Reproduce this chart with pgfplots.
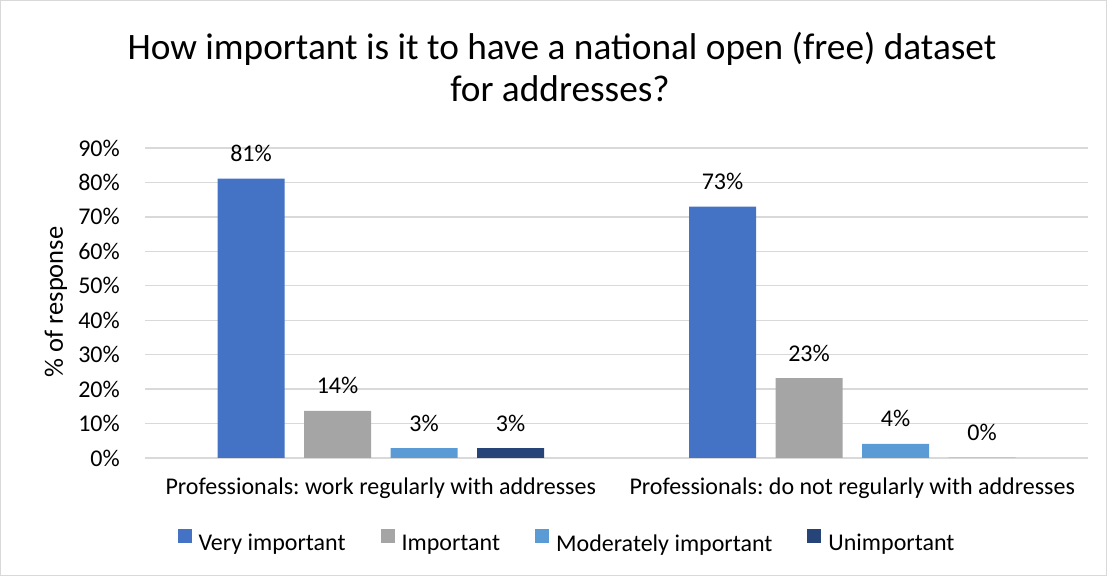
\documentclass[border=0pt]{standalone}
\usepackage{pgfplots}
\pgfplotsset{compat=1.18}
\usepackage{fontspec}
\setmainfont{Carlito}
\frenchspacing
\definecolor{c1}{HTML}{4472C4}
\definecolor{c2}{HTML}{A5A5A5}
\definecolor{c3}{HTML}{5B9BD5}
\definecolor{c4}{HTML}{264478}
\definecolor{gridc}{HTML}{D9D9D9}
\newcommand\fs[1]{\fontsize{#1bp}{#1bp}\selectfont}
\begin{document}
\begin{tikzpicture}[x=1bp,y=1bp]
\draw[gridc, line width=1bp] (0.5,0.5) rectangle (1106.5,575.5);
\begin{axis}[
  at={(145bp,118bp)}, anchor=south west,
  width=943bp, height=310bp, scale only axis,
  xmin=-0.5, xmax=1.5, ymin=0, ymax=90,
  ybar=19.5bp, bar width=67bp,
  axis line style={draw=none},
  ymajorgrids, grid style={gridc, line width=1.3bp},
  major tick length=0pt,
  ytick={0,10,...,90},
  yticklabel={\pgfmathprintnumber{\tick}\%},
  /pgf/number format/assume math mode=true,
  yticklabel style={font=\fs{24}, anchor=east, inner sep=0pt, xshift=-25bp},
  xtick={0,1},
  xticklabels={Professionals: work regularly with addresses, Professionals: do not regularly with addresses},
  xticklabel style={font=\fs{24}, anchor=base, inner sep=0pt, yshift=-37bp},
  nodes near coords={\pgfmathprintnumber[fixed,precision=0]{\pgfplotspointmeta}\%},
  every node near coord/.append style={font=\fs{24}, anchor=base, inner sep=0pt, yshift=17bp, text=black},
  legend columns=4,
  legend style={at={(axis description cs:0.4475,-0.271)}, anchor=center, draw=none, fill=none, font=\fs{24},
    /tikz/every odd column/.append style={column sep=5bp},
    /tikz/every even column/.append style={column sep=33bp}, inner sep=0pt},
  legend image code/.code={\fill[#1] (0bp,0bp) rectangle (14bp,14bp);},
]
\addplot[fill=c1, draw=none] coordinates {(0,81.1) (1,73.0)};
\addplot[fill=c2, draw=none] coordinates {(0,13.7) (1,23.2)};
\addplot[fill=c3, draw=none] coordinates {(0,2.9) (1,4.1)};
\addplot[fill=c4, draw=none] coordinates {(0,2.9) (1,0)};
\legend{Very important, Important, Moderately important, Unimportant}
\end{axis}
\node[rotate=90, font=\fs{26.5}] at (56,274) {\% of response};
\node[anchor=base, font=\fs{37.3}] at (562,516) {How important is it to have a national open (free) dataset};
\node[anchor=base, font=\fs{37.3}] at (560,474) {for addresses?};
\end{tikzpicture}
\end{document}
